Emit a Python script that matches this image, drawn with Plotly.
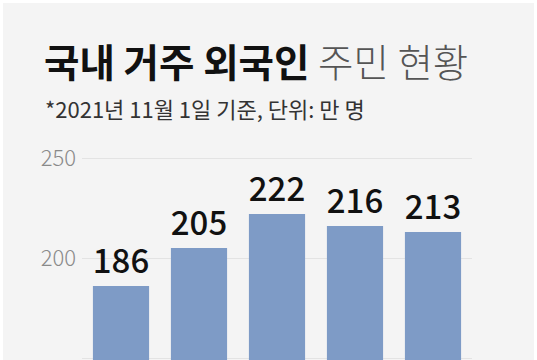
import plotly.graph_objects as go

categories = ["2017", "2018", "2019", "2020", "2021"]
values = [186, 205, 222, 216, 213]
tick_vals = [150, 200, 250]
tick_text = ["150", "200", "250"]

title_bold = "국내 거주 외국인"
title_light = "주민 현황"
subtitle = "*2021년 11월 1일 기준, 단위: 만 명"

W, H = 537, 360
ML, MR, MT, MB = 82, 65, 127, 0
PW = W - ML - MR
PH = H - MT - MB


def px(x):
    return (x - ML) / PW


def py(y):
    return (H - MB - y) / PH


FONT = "Noto Sans CJK KR"

fig = go.Figure()
fig.add_trace(go.Bar(
    x=categories,
    y=values,
    text=[str(v) for v in values],
    textposition="outside",
    constraintext="none",
    cliponaxis=False,
    textfont=dict(family=FONT, size=33, color="#111111", weight=500),
    marker=dict(color="#7e9bc6", line=dict(width=0)),
    hoverinfo="skip",
))

fig.update_layout(
    width=W,
    height=H,
    margin=dict(l=ML, r=MR, t=MT, b=MB, pad=0),
    paper_bgcolor="#ffffff",
    plot_bgcolor="rgba(0,0,0,0)",
    showlegend=False,
    bargap=0.28,
    font=dict(family=FONT),
    xaxis=dict(showticklabels=False, showgrid=False, zeroline=False,
               showline=False, ticks=""),
    yaxis=dict(range=[149, 265.5], tickvals=tick_vals, ticktext=tick_text,
               showgrid=True, gridcolor="#e3e3e3", gridwidth=1,
               zeroline=False, showline=False, ticks="",
               ticklabelstandoff=5,
               tickfont=dict(family=FONT, size=22, color="#8a8a8a", weight=300)),
    shapes=[dict(type="rect", xref="paper", yref="paper",
                 x0=px(3), x1=px(534), y0=py(370), y1=py(3),
                 fillcolor="#f4f4f4", line=dict(width=0), layer="below")],
    annotations=[
        dict(xref="paper", yref="paper", x=px(42), y=py(60),
             xanchor="left", yanchor="middle", showarrow=False,
             text=f"<b>{title_bold}</b> <span style='color:#555555;font-weight:300'>{title_light}</span>",
             font=dict(family=FONT, size=38.5, color="#111111")),
        dict(xref="paper", yref="paper", x=px(43), y=py(108),
             xanchor="left", yanchor="middle", showarrow=False,
             text=subtitle,
             font=dict(family=FONT, size=22, color="#333333")),
    ],
)

fig.write_html("out.html",
               config={"displayModeBar": False, "staticPlot": True},
               post_script="document.body.style.margin='0';document.body.style.overflow='hidden';")
